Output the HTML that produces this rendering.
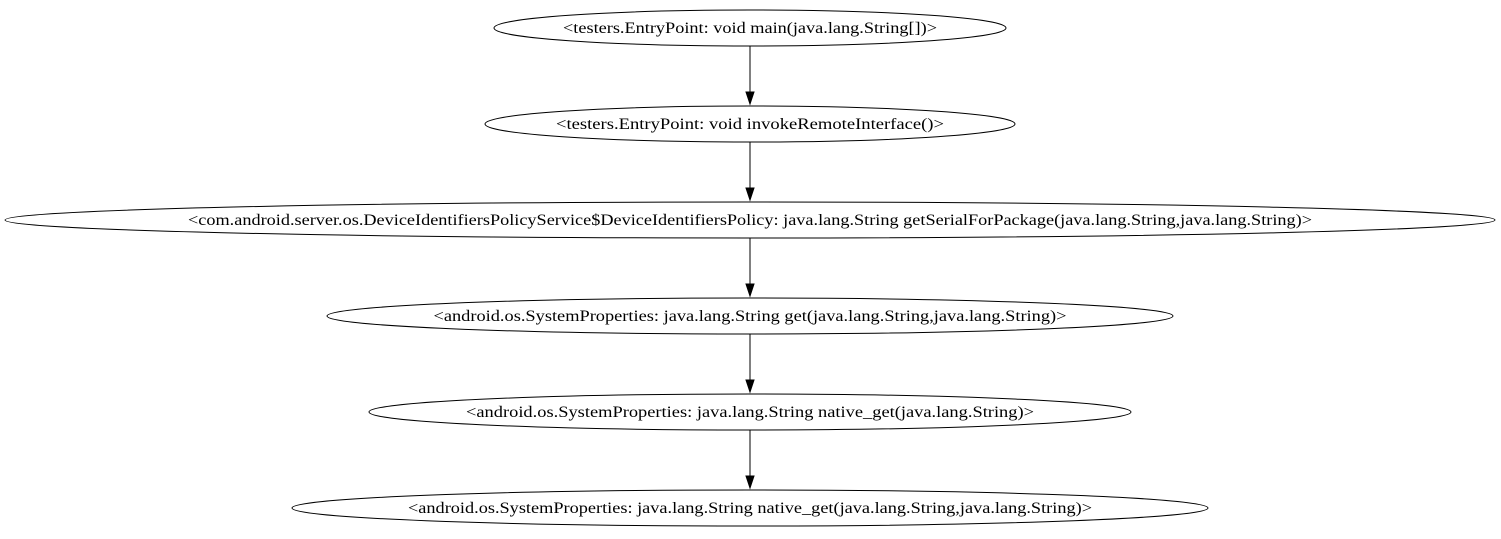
<!DOCTYPE html>
<html><head><meta charset="utf-8"><style>
html,body{margin:0;padding:0;background:#fff;}
svg{display:block;}
text{font-family:"Liberation Serif",serif;font-size:15.5px;fill:#000;}
</style></head><body>
<svg width="1501" height="539" viewBox="0 0 1501 539" xmlns="http://www.w3.org/2000/svg">
<g fill="none" stroke="#000" stroke-width="1">
<ellipse cx="750" cy="28" rx="256" ry="18"/>
<ellipse cx="750" cy="124" rx="265" ry="18"/>
<ellipse cx="750" cy="220" rx="745" ry="18"/>
<ellipse cx="750" cy="316" rx="423" ry="18"/>
<ellipse cx="750" cy="412" rx="381" ry="18"/>
<ellipse cx="750" cy="508" rx="458" ry="18"/>
<line x1="750" y1="46" x2="750" y2="93"/>
<line x1="750" y1="142" x2="750" y2="189"/>
<line x1="750" y1="238" x2="750" y2="285"/>
<line x1="750" y1="334" x2="750" y2="381"/>
<line x1="750" y1="430" x2="750" y2="477"/>
</g>
<g fill="#000" stroke="#000">
<polygon points="746,92 754,92 750,104"/>
<polygon points="746,188 754,188 750,200"/>
<polygon points="746,284 754,284 750,296"/>
<polygon points="746,380 754,380 750,392"/>
<polygon points="746,476 754,476 750,488"/>
</g>
<g text-anchor="middle">
<text x="750" y="33" textLength="374" lengthAdjust="spacingAndGlyphs">&lt;testers.EntryPoint: void main(java.lang.String[])&gt;</text>
<text x="750" y="129" textLength="388" lengthAdjust="spacingAndGlyphs">&lt;testers.EntryPoint: void invokeRemoteInterface()&gt;</text>
<text x="750" y="225" textLength="1124" lengthAdjust="spacingAndGlyphs">&lt;com.android.server.os.DeviceIdentifiersPolicyService$DeviceIdentifiersPolicy: java.lang.String getSerialForPackage(java.lang.String,java.lang.String)&gt;</text>
<text x="750" y="321" textLength="633" lengthAdjust="spacingAndGlyphs">&lt;android.os.SystemProperties: java.lang.String get(java.lang.String,java.lang.String)&gt;</text>
<text x="750" y="417" textLength="568" lengthAdjust="spacingAndGlyphs">&lt;android.os.SystemProperties: java.lang.String native_get(java.lang.String)&gt;</text>
<text x="750" y="513" textLength="684" lengthAdjust="spacingAndGlyphs">&lt;android.os.SystemProperties: java.lang.String native_get(java.lang.String,java.lang.String)&gt;</text>
</g>
</svg>
</body></html>
